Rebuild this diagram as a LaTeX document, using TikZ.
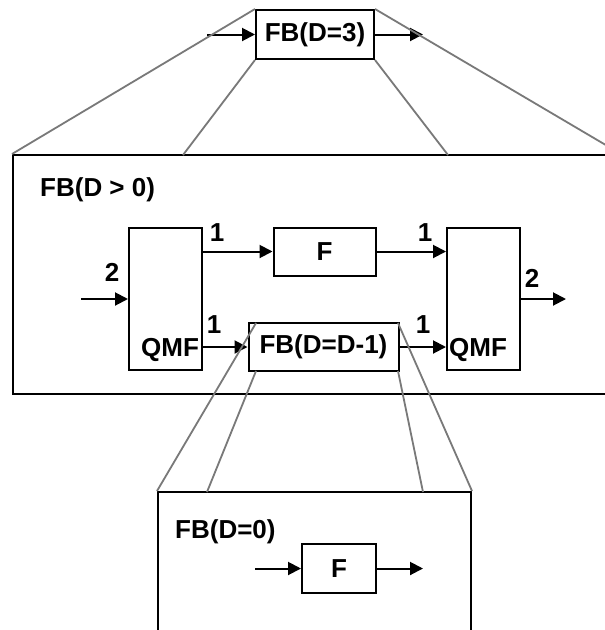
\documentclass[tikz,border=0pt]{standalone}
\usepackage{fontspec}
\setmainfont{Liberation Sans}
\usetikzlibrary{arrows.meta}
\begin{document}
\begin{tikzpicture}[x=1pt,y=-1pt,
  box/.style={draw=black,line width=2pt,rectangle,inner sep=0pt,fill=white},
  txt/.style={inner sep=0pt,font=\bfseries\fontsize{26}{30}\selectfont},
  arr/.style={line width=2pt,-{Triangle[length=13pt,width=13pt]}},
  zoomline/.style={draw=gray!95!black,line width=1.8pt}]
\useasboundingbox (0,0) rectangle (605,630);
\clip (0,0) rectangle (605,630);
\fill[white] (0,0) rectangle (605,630);
% top block
\node[box,minimum width=118pt,minimum height=49pt] (top) at (315,34.5) {};
\node[txt] (toptxt) at (315,35) {FB(D=3)};
\coordinate (tin) at (207,34.5);
\coordinate (tout) at (423,34.5);
\draw[arr] (tin) -- (top.west);
\draw[arr] (top.east) -- (tout);
% big box D>0
\node[box,fill=none,minimum width=607pt,minimum height=239pt] (big) at (316.5,274.5) {};
\node[txt,anchor=west] (bigtxt) at (40,190) {FB(D > 0)};
\node[box,minimum width=73pt,minimum height=142pt] (lqmf) at (165.5,299) {};
\node[txt] (lqmftxt) at (170,350) {QMF};
\node[box,minimum width=102pt,minimum height=48pt] (f1) at (324.5,251.5) {};
\node[txt] (f1txt) at (324.5,252) {F};
\node[box,minimum width=73pt,minimum height=142pt] (rqmf) at (483.5,299) {};
\node[txt] (rqmftxt) at (478,350) {QMF};
\node[box,minimum width=150pt,minimum height=48pt] (sub) at (323.5,347) {};
\node[txt] (subtxt) at (323.5,347) {FB(D=D-1)};
\coordinate (in1) at (81,299);
\coordinate (out1) at (566,299);
\draw[arr] (in1) -- (lqmf.west);
\draw[arr] (lqmf.east |- f1.west) -- (f1.west);
\draw[arr] (f1.east) -- (rqmf.west |- f1.east);
\draw[arr] (lqmf.east |- sub.west) -- (sub.west);
\draw[arr] (sub.east) -- (rqmf.west |- sub.east);
\draw[arr] (rqmf.east) -- (out1);
\node[txt] (l2a) at (112,272) {2};
\node[txt] (l1a) at (217,233) {1};
\node[txt] (l1b) at (425,233) {1};
\node[txt] (l2b) at (532,278) {2};
\node[txt] (l1c) at (214,325) {1};
\node[txt] (l1d) at (423,325) {1};
% lower box D=0
\node[box,fill=none,minimum width=313pt,minimum height=216pt] (low) at (314.5,600) {};
\node[txt,anchor=west] (lowtxt) at (175,532) {FB(D=0)};
\node[box,minimum width=74pt,minimum height=49pt] (f2) at (339,568.5) {};
\node[txt] (f2txt) at (339,569) {F};
\coordinate (in2) at (255,568.5);
\coordinate (out2) at (423,568.5);
\draw[arr] (in2) -- (f2.west);
\draw[arr] (f2.east) -- (out2);
% zoom lines top
\coordinate (b1) at (183,155);
\coordinate (b2) at (448,155);
\draw[zoomline] (top.north west) -- (big.north west);
\draw[zoomline] (top.south west) -- (b1);
\draw[zoomline] (top.south east) -- (b2);
\draw[zoomline] (top.north east) -- (big.north east);
% zoom lines lower
\coordinate (s1) at (256,323);
\coordinate (s2) at (256,371);
\coordinate (s3) at (398,371);
\coordinate (s4) at (398,323);
\coordinate (d1) at (207,492);
\coordinate (d2) at (423,492);
\draw[zoomline] (s1) -- (low.north west);
\draw[zoomline] (s2) -- (d1);
\draw[zoomline] (s3) -- (d2);
\draw[zoomline] (s4) -- (low.north east);
\end{tikzpicture}
\end{document}
